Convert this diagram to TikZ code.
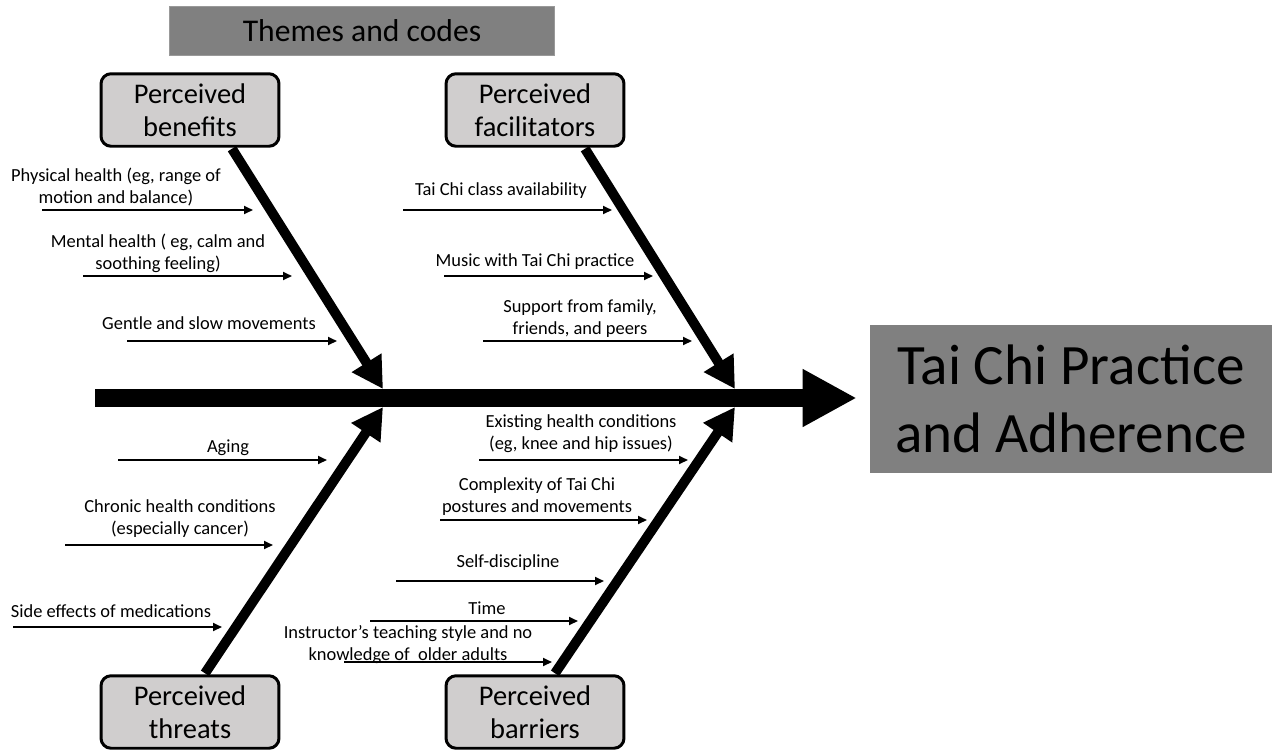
\documentclass[tikz,border=0pt]{standalone}
\usepackage{fontspec}
\setmainfont{Carlito}
\usetikzlibrary{arrows.meta,calc}
\definecolor{boxgray}{RGB}{128,128,128}
\definecolor{catgray}{RGB}{208,206,206}

\begin{document}
\begin{tikzpicture}[x=0.02cm,y=-0.02cm]
\tikzset{
  themebox/.style={rectangle,fill=boxgray,draw=boxgray!80,line width=0.4pt,inner sep=0pt,font=\fontsize{18}{21}\selectfont},
  outcome/.style={rectangle,fill=boxgray,inner sep=0pt,align=center,font=\fontsize{32.5}{38.5}\selectfont},
  category/.style={rectangle,rounded corners=0.2cm,fill=catgray,draw=black,line width=1.7pt,minimum width=3.56cm,minimum height=1.45cm,inner sep=0pt,align=center,font=\fontsize{16.2}{18.9}\selectfont},
  cause/.style={inner sep=0pt,align=center,font=\fontsize{10.5}{12.6}\selectfont},
  spine/.style={draw=black,line width=10.2pt,-{Triangle[length=1.08cm,width=1.08cm]}},
  bone/.style={draw=black,line width=5.6pt,-{Triangle[length=0.62cm,width=0.66cm]}},
  twig/.style={draw=black,line width=1.1pt,-{Triangle[length=0.18cm,width=0.16cm]}}
}
\useasboundingbox (0,0) rectangle (1272,751);
\node[themebox,minimum width=7.7cm,minimum height=0.98cm] (n_head) at (362,31) {Themes and codes};
\node[outcome,minimum width=8.04cm,minimum height=2.96cm] (n_out) at (1071,399) {Tai Chi Practice\\and Adherence};
\node[category] (n_ben) at (190,110) {Perceived\\benefits};
\node[category] (n_fac) at (535,110) {Perceived\\facilitators};
\node[category] (n_thr) at (190,712) {Perceived\\threats};
\node[category] (n_bar) at (535,712) {Perceived\\barriers};
\coordinate (n_tail) at (95,398);
\coordinate (j_ben) at (383,389);
\coordinate (j_fac) at (735,389);
\coordinate (j_thr) at (383,407);
\coordinate (j_bar) at (735,407);
\draw[spine,shorten >=13*0.02cm] (n_tail) -- (n_tail -| n_out.west);
\draw[bone] ($(n_ben.south)+(42,1)$) -- (j_ben);
\draw[bone] ($(n_fac.south)+(50,1)$) -- (j_fac);
\draw[bone] ($(n_thr.north)+(15,-1)$) -- (j_thr);
\draw[bone] ($(n_bar.north)+(20,-1)$) -- (j_bar);
\node[cause] (t_phys) at (116,187) {Physical health (eg, range of\\motion and balance)};
\node[cause] (t_ment) at (158,253) {Mental health ( eg, calm and\\soothing feeling)};
\node[cause] (t_gent) at (209,323) {Gentle and slow movements};
\node[cause] (t_class) at (501,191) {Tai Chi class availability};
\node[cause] (t_music) at (535,262) {Music with Tai Chi practice};
\node[cause] (t_supp) at (580,319) {Support from family,\\friends, and peers};
\node[cause] (t_aging) at (228,448) {Aging};
\node[cause] (t_chron) at (180,519) {Chronic health conditions\\(especially cancer)};
\node[cause] (t_side) at (111,611) {Side effects of medications};
\node[cause] (t_exist) at (581,434) {Existing health conditions\\(eg, knee and hip issues)};
\node[cause] (t_compl) at (537,497) {Complexity of Tai Chi\\postures and movements};
\node[cause] (t_self) at (508,563) {Self-discipline};
\node[cause] (t_time) at (487,608) {Time};
\node[cause] (t_instr) at (408,645) {Instructor’s teaching style and no\\knowledge of~~older adults};
\coordinate (s_phys) at (42,210);   \coordinate (e_phys) at (253,210);
\coordinate (s_ment) at (83,276);   \coordinate (e_ment) at (292,276);
\coordinate (s_gent) at (127,341);  \coordinate (e_gent) at (337,341);
\coordinate (s_class) at (403,210); \coordinate (e_class) at (612,210);
\coordinate (s_music) at (444,276); \coordinate (e_music) at (653,276);
\coordinate (s_supp) at (483,341);  \coordinate (e_supp) at (692,341);
\coordinate (s_aging) at (118,460); \coordinate (e_aging) at (327,460);
\coordinate (s_chron) at (65,545);  \coordinate (e_chron) at (273,545);
\coordinate (s_side) at (13,627);   \coordinate (e_side) at (222,627);
\coordinate (s_exist) at (479,460); \coordinate (e_exist) at (688,460);
\coordinate (s_compl) at (440,520); \coordinate (e_compl) at (647,520);
\coordinate (s_self) at (396,581);  \coordinate (e_self) at (604,581);
\coordinate (s_time) at (370,621);  \coordinate (e_time) at (578,621);
\coordinate (s_instr) at (344,662); \coordinate (e_instr) at (552,662);
\draw[twig] (s_phys) -- (e_phys);
\draw[twig] (s_ment) -- (e_ment);
\draw[twig] (s_gent) -- (e_gent);
\draw[twig] (s_class) -- (e_class);
\draw[twig] (s_music) -- (e_music);
\draw[twig] (s_supp) -- (e_supp);
\draw[twig] (s_aging) -- (e_aging);
\draw[twig] (s_chron) -- (e_chron);
\draw[twig] (s_side) -- (e_side);
\draw[twig] (s_exist) -- (e_exist);
\draw[twig] (s_compl) -- (e_compl);
\draw[twig] (s_self) -- (e_self);
\draw[twig] (s_time) -- (e_time);
\draw[twig] (s_instr) -- (e_instr);
\end{tikzpicture}
\end{document}
